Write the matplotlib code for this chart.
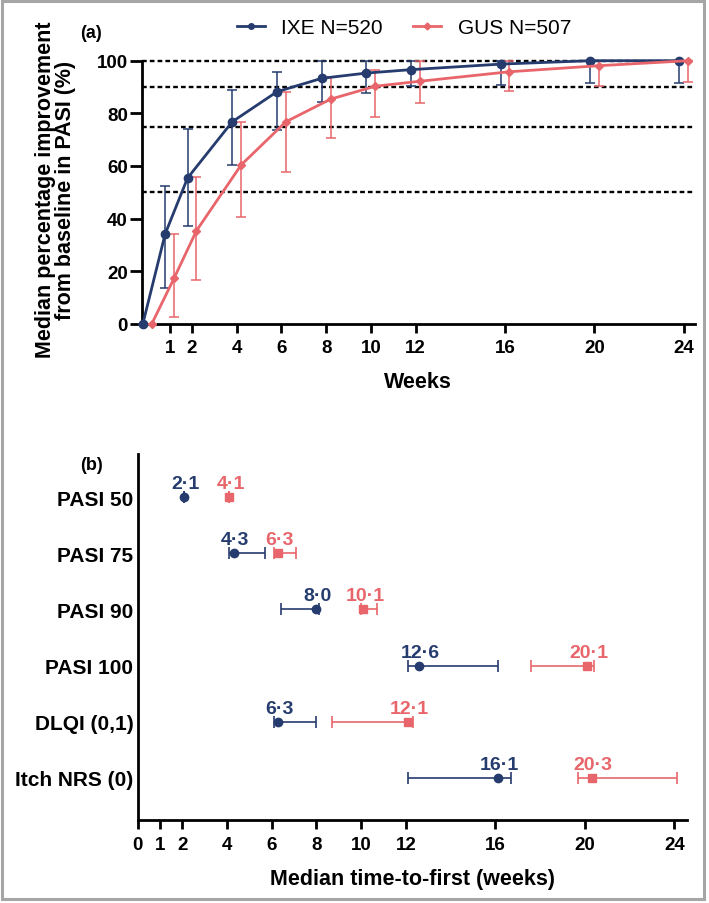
import matplotlib
matplotlib.use("Agg")
import matplotlib.pyplot as plt
from matplotlib.patches import Rectangle
from matplotlib.lines import Line2D

plt.rcParams['font.family'] = ['Liberation Sans', 'DejaVu Sans']
plt.rcParams['font.weight'] = 'bold'
plt.rcParams['axes.labelweight'] = 'bold'

NAVY = '#263c6e'
RED = '#e8666b'

# (a) median % improvement in PASI by week
weeks = [0, 1, 2, 4, 6, 8, 10, 12, 16, 20, 24]
ixe_pct = [0, 34.2, 55.4, 76.8, 88.2, 93.3, 95.3, 96.6, 98.7, 100, 100]
ixe_pct_lo = [0, 13.5, 37.3, 60.4, 73.7, 84.4, 87.8, 90.3, 90.9, 91.5, 91.4]
ixe_pct_hi = [0, 52.5, 73.9, 88.9, 95.8, 100, 100, 100, 100, 100, 100]
gus_pct = [0, 17.4, 35.4, 60.4, 76.8, 85.4, 90.3, 92.2, 95.8, 98.1, 100]
gus_pct_lo = [0, 2.7, 16.8, 40.7, 57.8, 70.5, 78.6, 83.9, 88.6, 90.3, 91.8]
gus_pct_hi = [0, 34.2, 55.7, 76.8, 88.0, 93.9, 96.5, 100, 100, 100, 100]
thresholds = [50, 75, 90, 100]
week_ticks_a = [1, 2, 4, 6, 8, 10, 12, 16, 20, 24]

# (b) median time-to-first (weeks) with CI
outcomes = ['PASI 50', 'PASI 75', 'PASI 90', 'PASI 100', 'DLQI (0,1)', 'Itch NRS (0)']
ixe_med = [2.1, 4.3, 8.0, 12.6, 6.3, 16.1]
ixe_lo = [2.1, 4.1, 6.4, 12.1, 6.1, 12.1]
ixe_hi = [2.1, 5.7, 8.1, 16.1, 8.0, 16.7]
gus_med = [4.1, 6.3, 10.1, 20.1, 12.1, 20.3]
gus_lo = [4.1, 6.1, 10.0, 17.6, 8.7, 19.7]
gus_hi = [4.1, 7.1, 10.7, 20.4, 12.3, 24.1]
week_ticks_b = [0, 1, 2, 4, 6, 8, 10, 12, 16, 20, 24]

W, H = 709, 904
fig = plt.figure(figsize=(W / 100, H / 100), dpi=100)


def px_axes(left, top, right, bottom):
    return fig.add_axes([left / W, 1 - bottom / H, (right - left) / W, (bottom - top) / H])


def style_axes(ax):
    for s in ('top', 'right'):
        ax.spines[s].set_visible(False)
    for s in ('left', 'bottom'):
        ax.spines[s].set_linewidth(2)
    ax.tick_params(width=2, labelsize=13.5)


def unclip(container):
    for art in container.get_children():
        art.set_clip_on(False)


# ---- panel (a)
ax = px_axes(141.7, 61.7, 695, 324.9)
style_axes(ax)
off = 0.2
x_ixe = [w - off for w in weeks]
x_gus = [w + off for w in weeks]

for t in thresholds:
    ax.axhline(t, color='black', lw=1.7, ls=(0, (2, 1.3)), zorder=1, clip_on=False)

eb = ax.errorbar(x_ixe, ixe_pct,
                 yerr=[[v - l for v, l in zip(ixe_pct, ixe_pct_lo)],
                       [h - v for v, h in zip(ixe_pct, ixe_pct_hi)]],
                 fmt='none', ecolor=NAVY, elinewidth=1.1, capsize=3.5, capthick=1.1, zorder=3)
unclip(eb)
ax.plot(x_ixe, ixe_pct, color=NAVY, lw=2, marker='o', ms=6, clip_on=False, zorder=4)

eb = ax.errorbar(x_gus, gus_pct,
                 yerr=[[v - l for v, l in zip(gus_pct, gus_pct_lo)],
                       [h - v for v, h in zip(gus_pct, gus_pct_hi)]],
                 fmt='none', ecolor=RED, elinewidth=1.1, capsize=3.5, capthick=1.1, zorder=3)
unclip(eb)
ax.plot(x_gus, gus_pct, color=RED, lw=2, marker='D', ms=4.5, clip_on=False, zorder=5)

ax.set_xlim(-0.25, 24.5)
ax.set_ylim(0, 100)
ax.set_xticks(week_ticks_a)
ax.set_yticks([0, 20, 40, 60, 80, 100])
ax.tick_params(axis='x', length=6.5, pad=4.5)
ax.tick_params(axis='y', length=9, pad=1)
ax.set_xlabel('Weeks', fontsize=15.5, fontweight='bold', va='center')
ax.xaxis.set_label_coords(0.5, (324.9 - 383) / 263.2)

fig.text(45.5 / W, 1 - 190 / H, 'Median percentage improvement', rotation=90,
         ha='center', va='center', fontsize=15.5)
fig.text(66 / W, 1 - 190 / H, 'from baseline in PASI (%)', rotation=90,
         ha='center', va='center', fontsize=15.5)
fig.text(91 / W, 1 - 33 / H, '(a)', ha='center', va='center', fontsize=13)

handles = [Line2D([], [], color=NAVY, lw=2, marker='o', ms=4),
           Line2D([], [], color=RED, lw=2, marker='D', ms=3.5)]
fig.legend(handles, ['IXE N=520', 'GUS N=507'], loc='center',
           bbox_to_anchor=(404 / W, 1 - 28.3 / H), ncol=2, frameon=False,
           handlelength=1.35, handletextpad=0.8, columnspacing=1.45,
           prop={'size': 15, 'weight': 'normal'})

# ---- panel (b)
bx = px_axes(137.5, 455, 687, 821)
style_axes(bx)
rows = list(range(len(outcomes), 0, -1))

eb = bx.errorbar(ixe_med, rows,
                 xerr=[[m - l for m, l in zip(ixe_med, ixe_lo)],
                       [h - m for m, h in zip(ixe_med, ixe_hi)]],
                 fmt='o', color=NAVY, ms=6, elinewidth=1.2, capsize=4, capthick=1.2, zorder=3)
unclip(eb)
eb = bx.errorbar(gus_med, rows,
                 xerr=[[m - l for m, l in zip(gus_med, gus_lo)],
                       [h - m for m, h in zip(gus_med, gus_hi)]],
                 fmt='s', color=RED, ms=6, elinewidth=1.2, capsize=4, capthick=1.2, zorder=3)
unclip(eb)

for vals, col in ((ixe_med, NAVY), (gus_med, RED)):
    for v, r in zip(vals, rows):
        bx.annotate(f'{v:.1f}'.replace('.', '\u00b7'), (v, r), xytext=(1, 6.5),
                    textcoords='offset points', ha='center', va='baseline',
                    color=col, fontsize=14)

bx.set_xlim(0, 24.56)
bx.set_ylim(0.25, 6.77)
bx.set_xticks(week_ticks_b)
bx.set_yticks(rows)
bx.set_yticklabels(outcomes, fontsize=15)
bx.tick_params(axis='y', length=0, pad=3)
bx.tick_params(axis='x', length=6.5, pad=5)
bx.set_xlabel('Median time-to-first (weeks)', fontsize=15.5, fontweight='bold', va='center')
bx.xaxis.set_label_coords(0.5, (821 - 880) / 366)
fig.text(91.5 / W, 1 - 465 / H, '(b)', ha='center', va='center', fontsize=13)

# light grey frame round the whole figure
fig.patches.append(Rectangle((1.5 / W, 4.5 / H), 702 / W, 898 / H, transform=fig.transFigure,
                             fill=False, edgecolor='#a6a6a6', lw=2.2))

fig.savefig('out.png', dpi=100)
